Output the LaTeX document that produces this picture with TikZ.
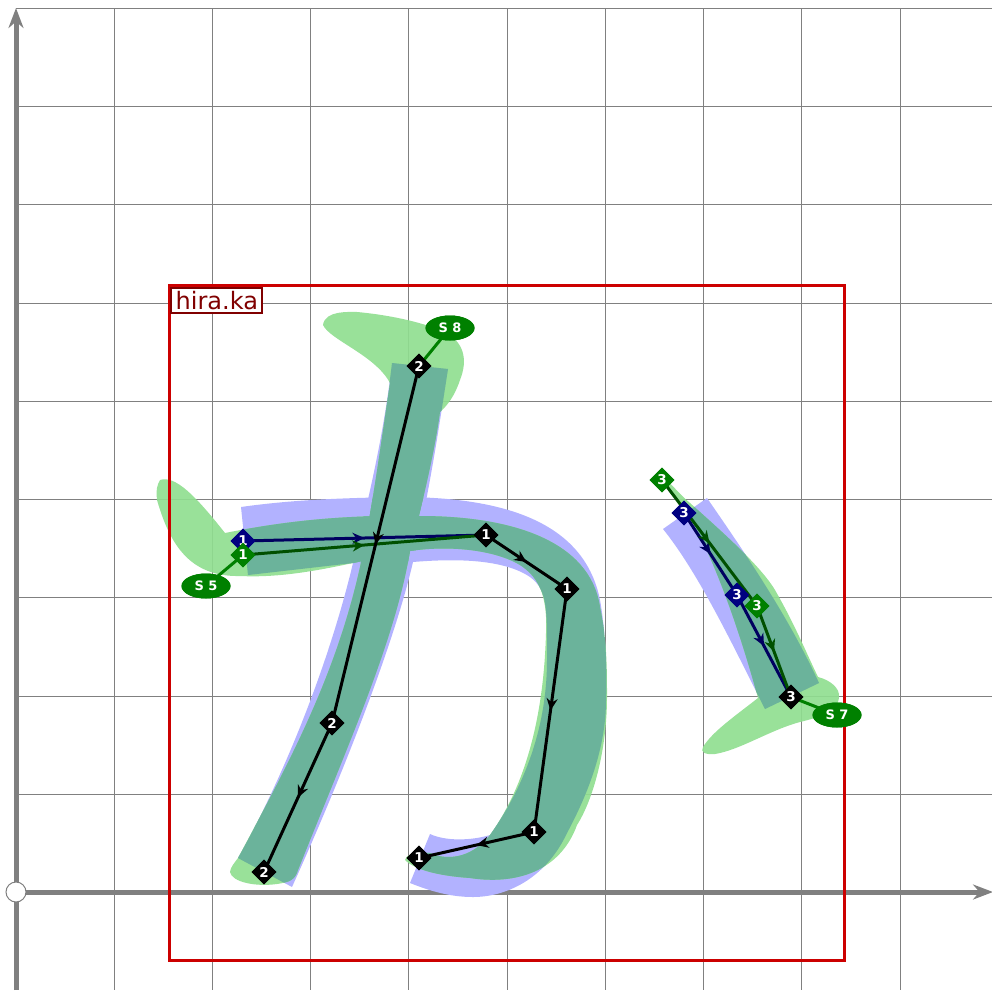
\documentclass[tikz,border=0pt]{standalone}
\usepackage{fontspec}
\setmainfont{DejaVu Sans}
\usetikzlibrary{arrows.meta,shapes.geometric,decorations.markings}
\definecolor{gridc}{HTML}{808080}
\definecolor{bluef}{HTML}{B2B2FF}
\definecolor{greenf}{HTML}{90DE90}
\definecolor{tealf}{HTML}{6BB39B}
\definecolor{framec}{HTML}{CC0000}
\definecolor{labelc}{HTML}{800000}
\definecolor{skgreen}{HTML}{008000}
\definecolor{sknavy}{HTML}{000080}
\definecolor{lngreen}{HTML}{005000}
\definecolor{lnnavy}{HTML}{000060}
\tikzset{
  gridline/.style={draw=gridc,line width=1pt},
  axisline/.style={draw=gridc,line width=5pt,-{Stealth[length=20pt,width=15pt]}},
  midarrow/.style={postaction={decorate,decoration={markings,mark=at position .5 with {\arrow{Stealth[length=12pt,width=11pt]}}}}},
  sk/.style={line width=3pt,midarrow},
  pt/.style={diamond,inner sep=0pt,minimum size=25pt,text=white,font=\fontsize{13.5}{13.5}\selectfont\bfseries},
  tag/.style={ellipse,fill=skgreen,inner sep=0pt,minimum width=49pt,minimum height=25pt,text=white,font=\fontsize{13}{13}\selectfont\bfseries},
  tagline/.style={draw=skgreen,line width=3pt}
}
\def\BlueA{(241,507) .. controls (290,500) and (340,498) .. (400,497) .. controls (510,497) and (585,525) .. (600,600) .. controls (607,640) and (607,680) .. (606,700) .. controls (606,745) and (590,790) .. (567,833) .. controls (545,880) and (505,897) .. (473,897) .. controls (450,897) and (430,891) .. (410,883) -- (430,834) .. controls (445,841) and (470,841) .. (490,835) .. controls (515,800) and (547,740) .. (547,660) .. controls (547,610) and (548,590) .. (530,577) .. controls (505,560) and (460,558) .. (413,562) -- (353,563) -- (248,575) -- cycle}
\def\BlueB{(392,363) -- (448,369) .. controls (440,420) and (430,490) .. (413,562) .. controls (395,640) and (345,770) .. (292,887) -- (238,858) .. controls (285,775) and (330,660) .. (353,563) .. controls (368,500) and (383,440) .. (392,363) -- cycle}
\def\BlueC{(707,498) .. controls (750,560) and (790,620) .. (819,683) -- (765,709) .. controls (735,650) and (700,575) .. (663,529) -- cycle}
\def\GreenA{(160,480) .. controls (175,475) and (195,495) .. (225,533) .. controls (300,518) and (360,515) .. (420,516) .. controls (510,516) and (590,540) .. (600,607) .. controls (607,640) and (607,670) .. (607,697) .. controls (607,750) and (593,800) .. (577,825) .. controls (560,872) and (515,885) .. (470,878) .. controls (440,876) and (415,870) .. (405,860) .. controls (405,855) and (415,852) .. (430,853) .. controls (445,860) and (470,860) .. (490,835) .. controls (515,800) and (543,740) .. (546,633) .. controls (548,590) and (535,575) .. (520,565) .. controls (495,550) and (450,545) .. (410,551) -- (353,563) .. controls (320,570) and (280,578) .. (240,576) .. controls (190,577) and (170,545) .. (157,500) .. controls (156,490) and (157,485) .. (160,480) -- cycle}
\def\GreenB{(323,325) .. controls (325,310) and (350,312) .. (357,312) .. controls (390,315) and (420,322) .. (440,330) .. controls (465,340) and (468,360) .. (460,380) .. controls (455,395) and (448,405) .. (440,412) .. controls (435,450) and (422,505) .. (410,551) .. controls (395,640) and (350,740) .. (298,870) .. controls (295,880) and (290,882) .. (277,884) .. controls (255,887) and (232,882) .. (230,872) .. controls (230,868) and (235,862) .. (238,858) .. controls (285,770) and (335,680) .. (360,567) .. controls (372,510) and (380,450) .. (390,383) .. controls (375,355) and (330,340) .. (323,325) -- cycle}
\def\GreenC{(662,476) .. controls (670,482) and (680,495) .. (690,503) .. controls (720,530) and (760,565) .. (775,590) .. controls (795,625) and (805,650) .. (818,677) .. controls (830,680) and (840,688) .. (839,697) .. controls (838,712) and (820,717) .. (800,722) .. controls (770,730) and (740,750) .. (715,754) .. controls (705,755) and (700,752) .. (703,747) .. controls (712,732) and (735,716) .. (758,698) .. controls (745,650) and (720,570) .. (690,517) -- (670,493) -- cycle}
\begin{document}
\begin{tikzpicture}[x=1pt,y=-1pt]
\useasboundingbox (0,0) rectangle (992,990);
% grid
\foreach \gx in {114,212.3,310.5,408.9,507,605,703.5,801.8,900}
  \draw[gridline] (\gx,8.5) -- (\gx,990);
\foreach \gy in {8.5,106.5,204.7,303,401,499,597.5,696,794}
  \draw[gridline] (16,\gy) -- (992,\gy);
% axes
\coordinate (xs) at (16,892); \coordinate (xe) at (993,892);
\coordinate (ys) at (16,990); \coordinate (ye) at (16,8);
\draw[axisline] (xs) -- (xe);
\draw[axisline] (ys) -- (ye);
\node[circle,fill=white,draw=gridc,line width=1pt,minimum size=20pt,inner sep=0pt] (origin) at (16,892) {};
% ink
\fill[bluef] \BlueA;
\fill[bluef] \BlueB;
\fill[bluef] \BlueC;
\fill[greenf,opacity=.92] \GreenA;
\fill[greenf,opacity=.92] \GreenB;
\fill[greenf,opacity=.92] \GreenC;
\begin{scope}\clip \GreenA; \fill[tealf] \BlueA; \fill[tealf] \BlueB;\end{scope}
\begin{scope}\clip \GreenB; \fill[tealf] \BlueA; \fill[tealf] \BlueB;\end{scope}
\begin{scope}\clip \GreenC; \fill[tealf] \BlueC;\end{scope}
% frame
\node[draw=framec,line width=3pt,minimum width=675pt,minimum height=675pt,inner sep=0pt,outer sep=0pt] (frame) at (507.3,622.5) {};
\node[draw=labelc,fill=white,line width=2pt,minimum width=91pt,minimum height=25pt,inner sep=0pt,text=labelc,font=\fontsize{24}{24}\selectfont] (title) at (216.8,300.5) {hira.ka};
% points (placed first, painted later)
\node[pt,fill=sknavy] (b1) at (243,541) {1};
\node[pt,fill=sknavy] (b2) at (684,513) {3};
\node[pt,fill=sknavy] (b3) at (737,595) {3};
\node[pt,fill=skgreen] (g1) at (243,555) {1};
\node[pt,fill=skgreen] (g2) at (662,480) {3};
\node[pt,fill=skgreen] (g3) at (757,606) {3};
\node[pt,fill=black] (k1) at (419,366) {2};
\node[pt,fill=black] (k2) at (332,723) {2};
\node[pt,fill=black] (k3) at (264,872) {2};
\node[pt,fill=black] (k4) at (486,535) {1};
\node[pt,fill=black] (k5) at (567,589) {1};
\node[pt,fill=black] (k6) at (534,832) {1};
\node[pt,fill=black] (k7) at (419,858) {1};
\node[pt,fill=black] (k8) at (791,697) {3};
\node[tag] (s8) at (450,328) {S 8};
\node[tag] (s5) at (206,586) {S 5};
\node[tag] (s7) at (837,715) {S 7};
% connectors
\draw[sk,color=lnnavy] (b1.center) -- (k4.center);
\draw[sk,color=lnnavy] (b2.center) -- (b3.center);
\draw[sk,color=lnnavy] (b3.center) -- (k8.center);
\draw[sk,color=lngreen] (g1.center) -- (k4.center);
\draw[sk,color=lngreen] (g2.center) -- (g3.center);
\draw[sk,color=lngreen] (g3.center) -- (k8.center);
\draw[sk,color=black] (k1.center) -- (k2.center);
\draw[sk,color=black] (k2.center) -- (k3.center);
\draw[sk,color=black] (k4.center) -- (k5.center);
\draw[sk,color=black] (k5.center) -- (k6.center);
\draw[sk,color=black] (k6.center) -- (k7.center);
\draw[tagline] (s8.center) -- (k1.center);
\draw[tagline] (s5.center) -- (g1.center);
\draw[tagline] (s7.center) -- (k8.center);
% repaint nodes above connectors
\node[pt,fill=sknavy] at (b1) {1};
\node[pt,fill=sknavy] at (b2) {3};
\node[pt,fill=sknavy] at (b3) {3};
\node[pt,fill=skgreen] at (g1) {1};
\node[pt,fill=skgreen] at (g2) {3};
\node[pt,fill=skgreen] at (g3) {3};
\node[pt,fill=black] at (k1) {2};
\node[pt,fill=black] at (k2) {2};
\node[pt,fill=black] at (k3) {2};
\node[pt,fill=black] at (k4) {1};
\node[pt,fill=black] at (k5) {1};
\node[pt,fill=black] at (k6) {1};
\node[pt,fill=black] at (k7) {1};
\node[pt,fill=black] at (k8) {3};
\node[tag] at (s8) {S 8};
\node[tag] at (s5) {S 5};
\node[tag] at (s7) {S 7};
\end{tikzpicture}
\end{document}
